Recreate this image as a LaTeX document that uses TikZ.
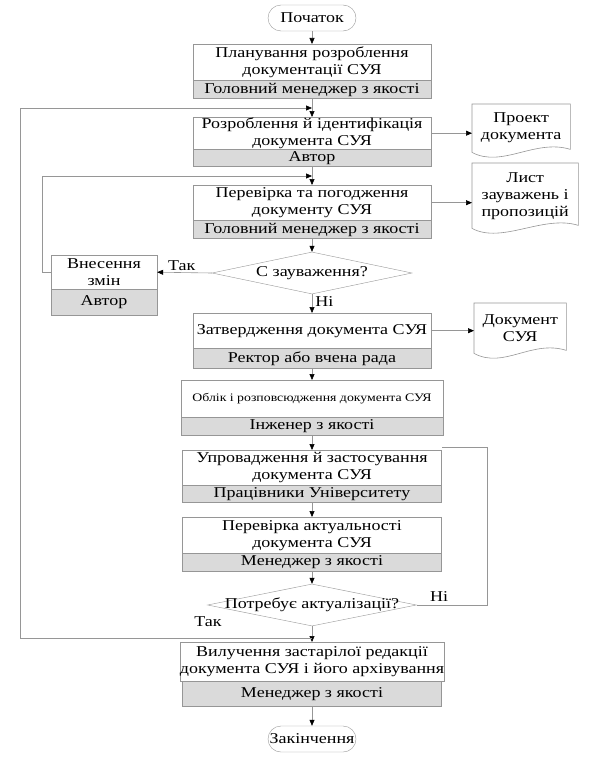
\documentclass[tikz,border=0pt]{standalone}
\usepackage{fontspec}
\setmainfont{Liberation Serif}[FakeStretch=1.2]
\usetikzlibrary{shapes.geometric,arrows.meta}
\definecolor{linegray}{RGB}{150,150,150}
\definecolor{bandgray}{RGB}{218,218,218}
\begin{document}
\begin{tikzpicture}[x=1pt, y=-1pt, >={Triangle[length=6pt,width=5pt,color=black]},
    every node/.style={font=\fontsize{15}{17}\selectfont, inner sep=0pt},
    term/.style={draw=linegray, rounded corners=13pt, minimum width=88pt, minimum height=26pt},
    task/.style={draw=linegray, fill=white, anchor=north, align=center, minimum width=238pt},
    actor/.style={draw=linegray, fill=bandgray, anchor=north, minimum width=238pt},
    check/.style={draw=linegray, diamond, minimum width=200pt, minimum height=42pt},
    paper/.style={align=center, anchor=north west},
    wire/.style={draw=linegray, line width=0.6pt},
    flow/.style={wire, ->}]
    \useasboundingbox (0,0) rectangle (598,760);
    % Початок
    \node[term] (start) at (312,18) {Початок};
    % Планування
    \node[task, minimum height=36pt] (plan) at (312,44) {Планування розроблення\\документації СУЯ};
    \node[actor, minimum height=18pt] (planby) at (plan.south) {Головний менеджер з якості};
    % Розроблення
    \node[task, minimum height=32pt] (draft) at (312,117) {Розроблення й ідентифікація\\документа СУЯ};
    \node[actor, minimum height=17pt] (draftby) at (draft.south) {Автор};
    % Перевірка та погодження
    \node[task, minimum height=35pt] (review) at (312,185) {Перевірка та погодження\\документу СУЯ};
    \node[actor, minimum height=18pt] (reviewby) at (review.south) {Головний менеджер з якості};
    % Рішення: зауваження
    \node[check, label=center:{С зауваження?}] (remarks) at (312,273) {};
    % Внесення змін
    \node[task, minimum width=106pt, minimum height=34pt] (fix) at (104,255) {Внесення\\змін};
    \node[actor, minimum width=106pt, minimum height=26pt] (fixby) at (fix.south) {Автор};
    % Затвердження
    \node[task, minimum height=35pt] (approve) at (312,313) {Затвердження документа СУЯ};
    \node[actor, minimum height=20pt] (approveby) at (approve.south) {Ректор або вчена рада};
    % Облік
    \node[task, minimum width=262pt, minimum height=37pt, font=\fontsize{11.5}{13}\selectfont] (record) at (312,380) {Облік і розповсюдження документа СУЯ};
    \node[actor, minimum width=262pt, minimum height=18pt] (recordby) at (record.south) {Інженер з якості};
    % Упровадження
    \node[task, minimum width=259pt, minimum height=35pt] (apply) at (312,450) {Упровадження й застосування\\документа СУЯ};
    \node[actor, minimum width=259pt, minimum height=17pt] (applyby) at (apply.south) {Працівники Університету};
    % Перевірка актуальності
    \node[task, minimum width=259pt, minimum height=36pt] (audit) at (312,517) {Перевірка актуальності\\документа СУЯ};
    \node[actor, minimum width=259pt, minimum height=18pt] (auditby) at (audit.south) {Менеджер з якості};
    % Рішення: актуалізація
    \node[check, minimum width=209pt, label=center:{Потребує актуалізації?}] (update) at (312,605) {};
    % Вилучення
    \node[task, minimum width=259pt, minimum height=39pt] (retire) at (312,642) {Вилучення застарілої редакції\\документа СУЯ і його архівування};
    \node[actor, minimum width=259pt, minimum height=25pt] (retireby) at (retire.south) {Менеджер з якості};
    % Закінчення
    \node[term] (finish) at (312,739) {Закінчення};
    % Документи
    \node[paper, minimum width=98pt, minimum height=48pt] (project) at (472,104) {Проект\\документа};
    \node[paper, minimum width=106pt, minimum height=65pt] (notes) at (472,163) {Лист\\зауважень і\\пропозицій};
    \node[paper, minimum width=92pt, minimum height=50pt] (final) at (474,303) {Документ\\СУЯ};
    \foreach \d in {project, notes, final}
      \draw[wire] (\d.north west) -- (\d.north east) -- ([yshift=3pt]\d.south east)
        .. controls ([xshift=-35pt,yshift=14pt]\d.south east) and ([xshift=30pt,yshift=-16pt]\d.south west) .. (\d.south west) -- cycle;
    % Точки з'єднання
    \coordinate (join1) at (312,108);
    \coordinate (join2) at (312,176);
    \coordinate (split) at (312,638);
    % Основний потік
    \draw[flow] (start) -- (plan);
    \draw[flow] (planby) -- (draft);
    \draw[flow] (draftby) -- (review);
    \draw[flow] (reviewby) -- (remarks);
    \draw[flow] (remarks) -- (approve) node[pos=0.4, right=3pt] {Ні};
    \draw[flow] (approveby) -- (record);
    \draw[flow] (recordby) -- (apply);
    \draw[flow] (applyby) -- (audit);
    \draw[flow] (auditby) -- (update);
    \draw[flow] (update) -- (retire);
    \draw[flow] (retireby) -- (finish);
    % До документів
    \draw[flow] (draft.east) -- (draft.east -| project.west);
    \draw[flow] (review.east) -- (review.east -| notes.west);
    \draw[flow] (approve.east) -- (approve.east -| final.west);
    % Зауваження
    \draw[flow] (remarks.west) -- (fix.east) node[pos=0.55, above=2pt] {Так};
    \draw[flow] (fix.west) -- ++(-9,0) |- (join2);
    % Повернення
    \draw[flow] (split) -- ++(-292,0) |- (join1);
    \node at (208,622) {Так};
    \draw[wire] (update.east) -- ++(71,0) |- ([yshift=3pt]apply.north east);
    \node[anchor=west] at (430,597) {Ні};
\end{tikzpicture}
\end{document}
